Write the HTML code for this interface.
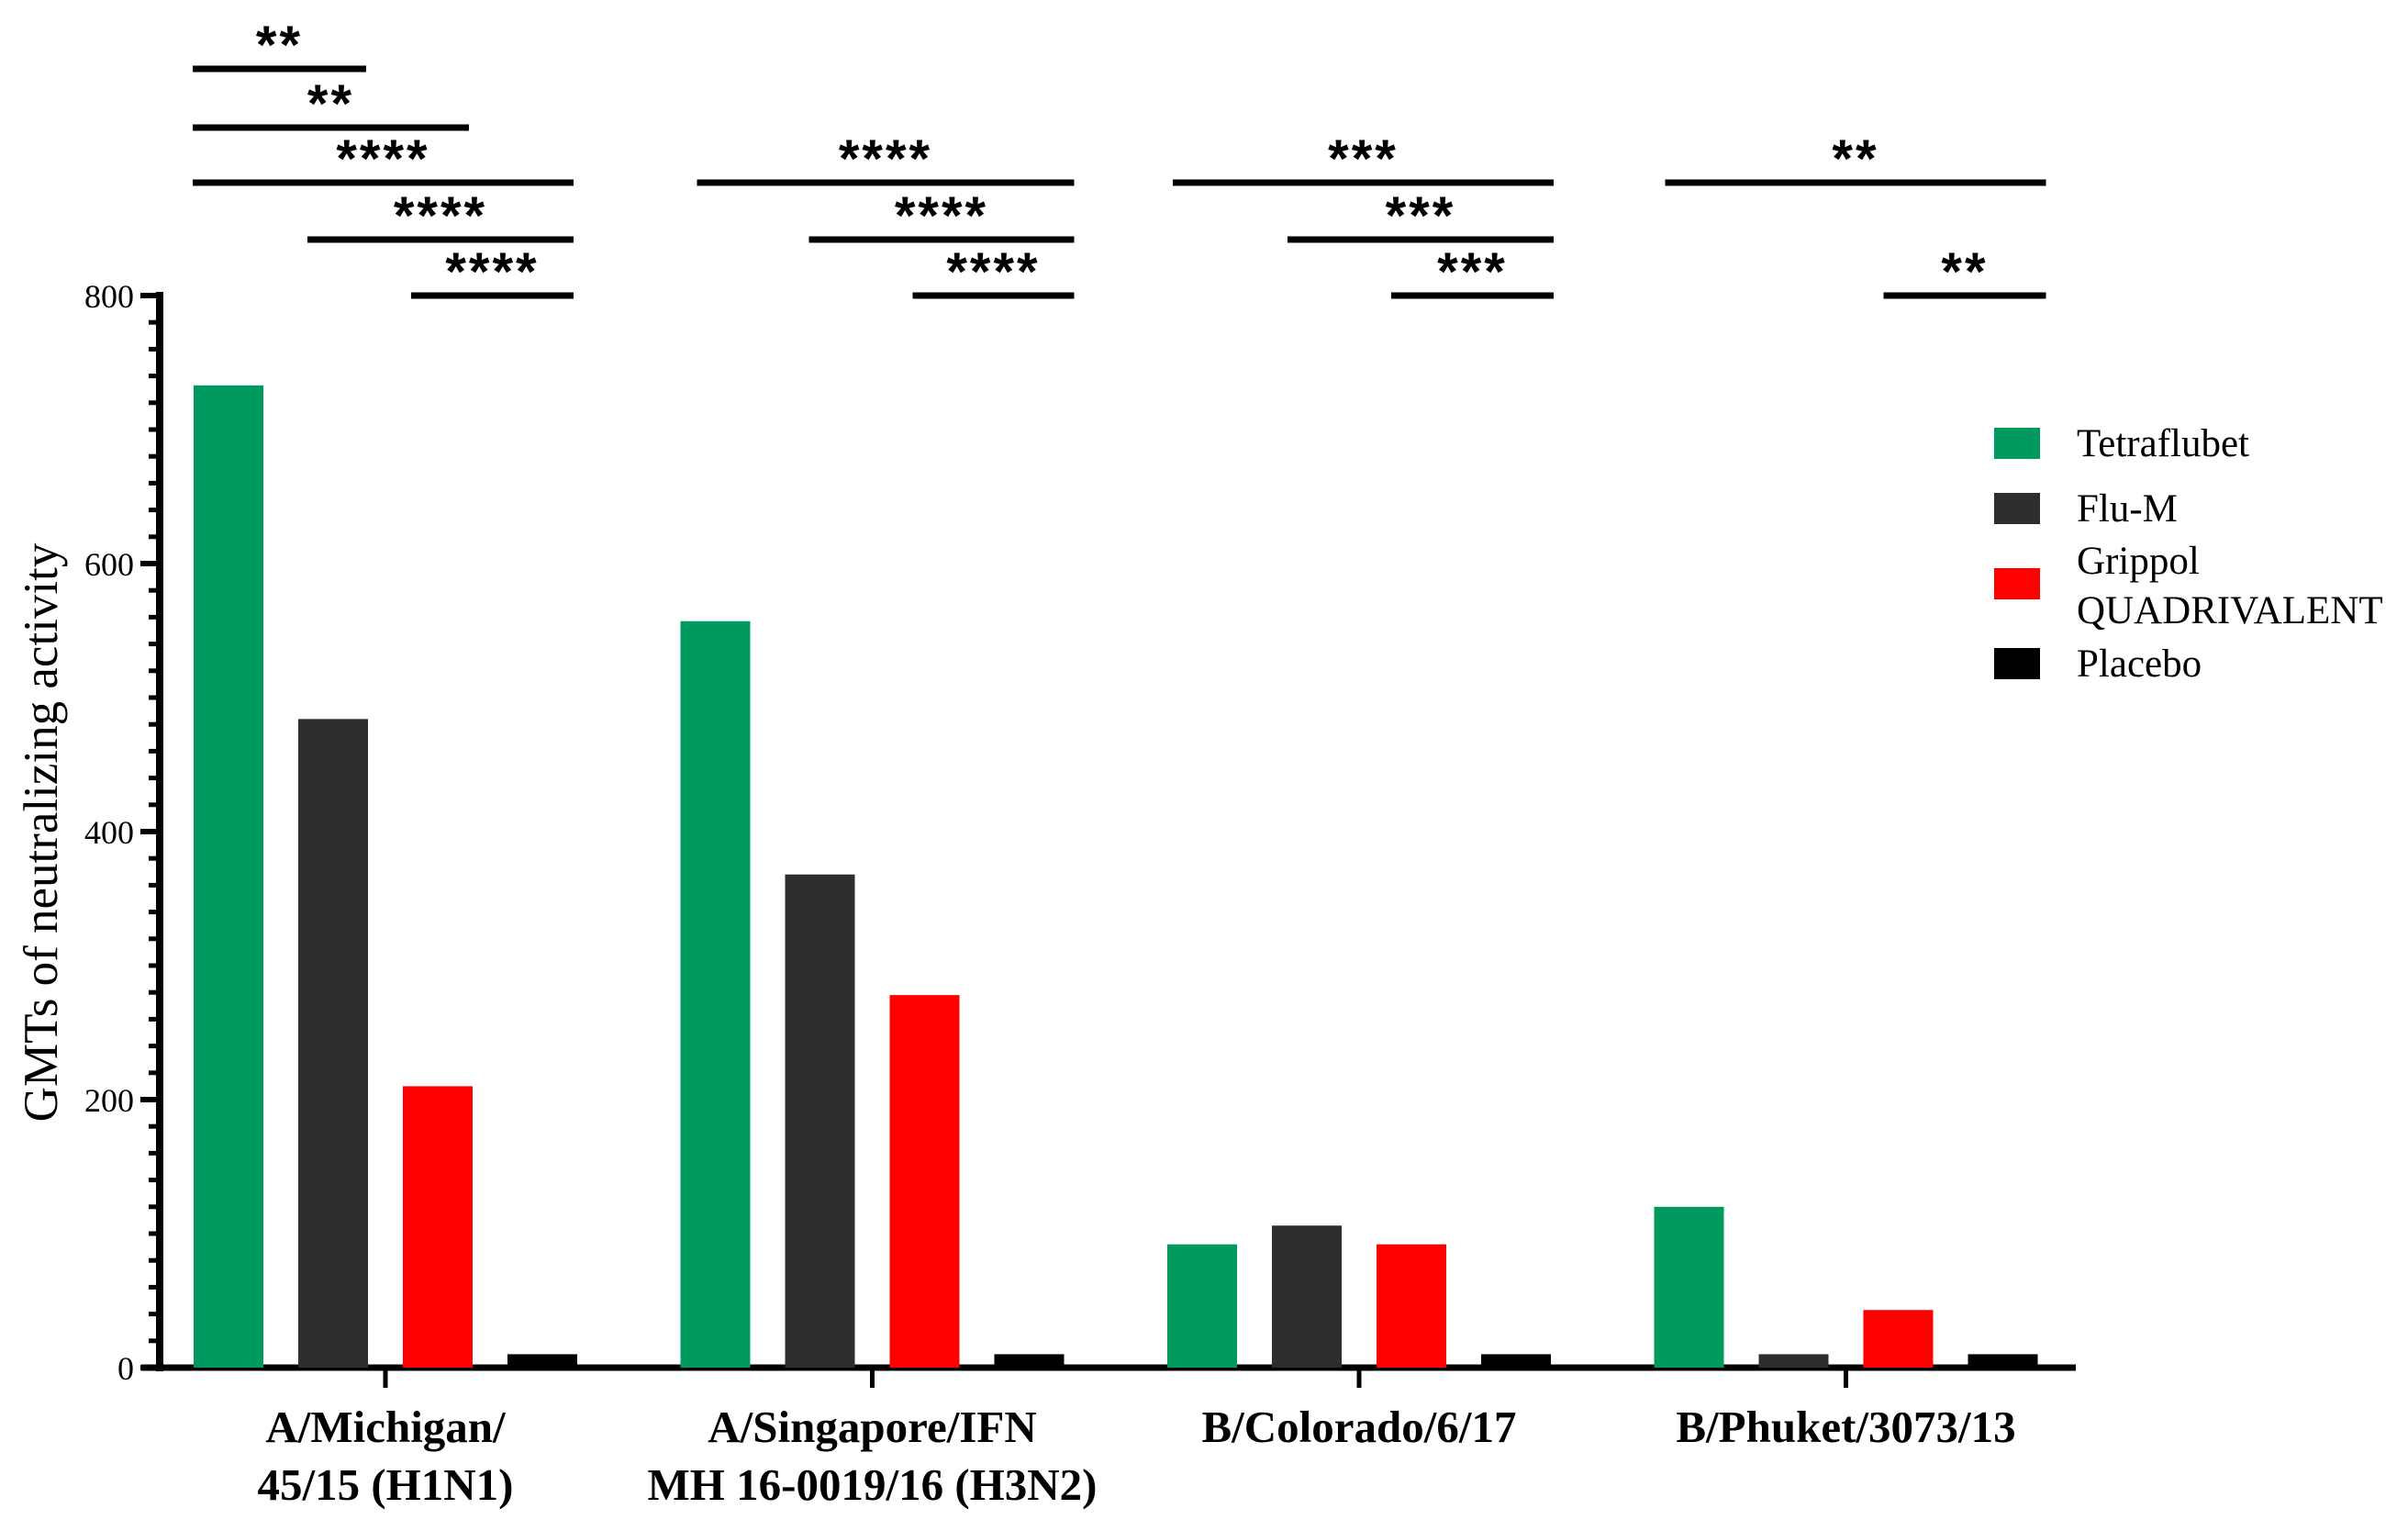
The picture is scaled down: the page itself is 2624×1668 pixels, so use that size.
<!DOCTYPE html>
<html><head><meta charset="utf-8"><style>
html,body{margin:0;padding:0;background:#fff}
svg{display:block}
</style></head><body>
<svg id="chart" width="2624" height="1668" viewBox="0 0 2624 1668" xmlns="http://www.w3.org/2000/svg">
<g id="axes"></g>
<g id="bars"></g>
<g id="sig"></g>
<g id="legend"></g>
<text transform="translate(62,907) rotate(-90)" text-anchor="middle" font-family="Liberation Serif, serif" font-size="53" fill="#000">GMTs of neutralizing activity</text>
</svg>
<script>
const categories = [["A/Michigan/","45/15 (H1N1)"],["A/Singapore/IFN","MH 16-0019/16 (H3N2)"],["B/Colorado/6/17"],["B/Phuket/3073/13"]];
const seriesNames = ["Tetraflubet","Flu-M","Grippol QUADRIVALENT","Placebo"];
const tetraflubet = [733, 557, 92, 120];
const fluM = [484, 368, 106, 10];
const grippol = [210, 278, 92, 43];
const placebo = [10, 10, 10, 10];
const yTicks = [0, 200, 400, 600, 800];
// significance: [group, fromBarIndex, toBarIndex, level, stars]
const sigs = [
 [0,0,1,0,"**"],[0,0,2,1,"**"],[0,0,3,2,"****"],[0,1,3,3,"****"],[0,2,3,4,"****"],
 [1,0,3,2,"****"],[1,1,3,3,"****"],[1,2,3,4,"****"],
 [2,0,3,2,"***"],[2,1,3,3,"***"],[2,2,3,4,"***"],
 [3,0,3,2,"**"],[3,2,3,4,"**"]
];
const colors = ["#009a5e","#2e2e2e","#ff0000","#000000"];
const series = [tetraflubet, fluM, grippol, placebo];
const NS="http://www.w3.org/2000/svg";
const y0=1490, yMax=800, yTop=322;
function y(v){return y0-(v/yMax)*(y0-yTop);}
function gx(i){return 420+i*530.5;}
function bx(i,j){return gx(i)+(j-1.5)*114;}
function mk(tag,attrs,parent){const e=document.createElementNS(NS,tag);for(const k in attrs)e.setAttribute(k,attrs[k]);parent.appendChild(e);return e;}
const axes=document.getElementById('axes');
const bars=document.getElementById('bars');
const sig=document.getElementById('sig');
const legend=document.getElementById('legend');
series.forEach((s,j)=>{s.forEach((v,i)=>{
 const r=mk('rect',{x:bx(i,j)-38,y:y(v),width:76,height:y0-y(v),fill:colors[j]},bars);
 
 
});});
const ya=mk('line',{x1:174,y1:y(800)-4,x2:174,y2:y0+4,stroke:'#000','stroke-width':8},axes);


for(let v=0;v<=800;v+=20){
 const major=v%200===0;
 const t=mk('line',{x1:major?153:162,y1:y(v),x2:174,y2:y(v),stroke:'#000','stroke-width':major?6:5},axes);
 
 
}
yTicks.forEach(v=>{
 const t=mk('text',{x:146,y:y(v)+13,'text-anchor':'end','font-family':'Liberation Serif, serif','font-size':36,fill:'#000'},axes);
 t.textContent=v;
 
 
});
const xa=mk('line',{x1:154,y1:y0,x2:2262,y2:y0,stroke:'#000','stroke-width':7},axes);


categories.forEach((c,i)=>{
 const t=mk('line',{x1:gx(i),y1:y0,x2:gx(i),y2:1512,stroke:'#000','stroke-width':5},axes);
 
 
 c.forEach((line,k)=>{
  const tx=mk('text',{x:gx(i),y:1571+k*63,'text-anchor':'middle','font-family':'Liberation Serif, serif','font-size':49,'font-weight':'bold',fill:'#000'},axes);
  tx.textContent=line;
  
  
 });
});
const levelY=[75,139,199,261,322];
const groupShift=[0,0,7,13];
sigs.forEach(s=>{
 const [g,a,b,l,st]=s;
 const sh=groupShift[g];
 const x1=gx(g)+sh+(a===0?(g===1?-191:-210):a===1?(g===1?-69:-85):(g===1?44:28));
 const x2=b===3?gx(g)+sh+(g===1?220:205):gx(g)+sh+(b===1?-21:91);
 const ln=mk('line',{x1:x1,y1:levelY[l],x2:x2,y2:levelY[l],stroke:'#000','stroke-width':7},sig);
 
 
 const t=mk('text',{x:(x1+x2)/2,y:levelY[l]-6,'text-anchor':'middle','font-family':'Liberation Sans, sans-serif','font-size':58,'font-weight':'bold','letter-spacing':'3',fill:'#000'},sig);
 t.textContent=st;
 
 
});
const legY=[483,554,636,723];
seriesNames.forEach((n,j)=>{
 const r=mk('rect',{x:2173,y:legY[j]-17,width:50,height:34,fill:colors[j]},legend);
 
 
 const lines=j===2?["Grippol","QUADRIVALENT"]:[n];
 lines.forEach((ln,k)=>{
  const t=mk('text',{x:2263,y:(j===2?legY[j]-11+k*54:legY[j]+14),'font-family':'Liberation Serif, serif','font-size':43,fill:'#000'},legend);
  t.textContent=ln;
  
  
 });
});
</script>
</body></html>
